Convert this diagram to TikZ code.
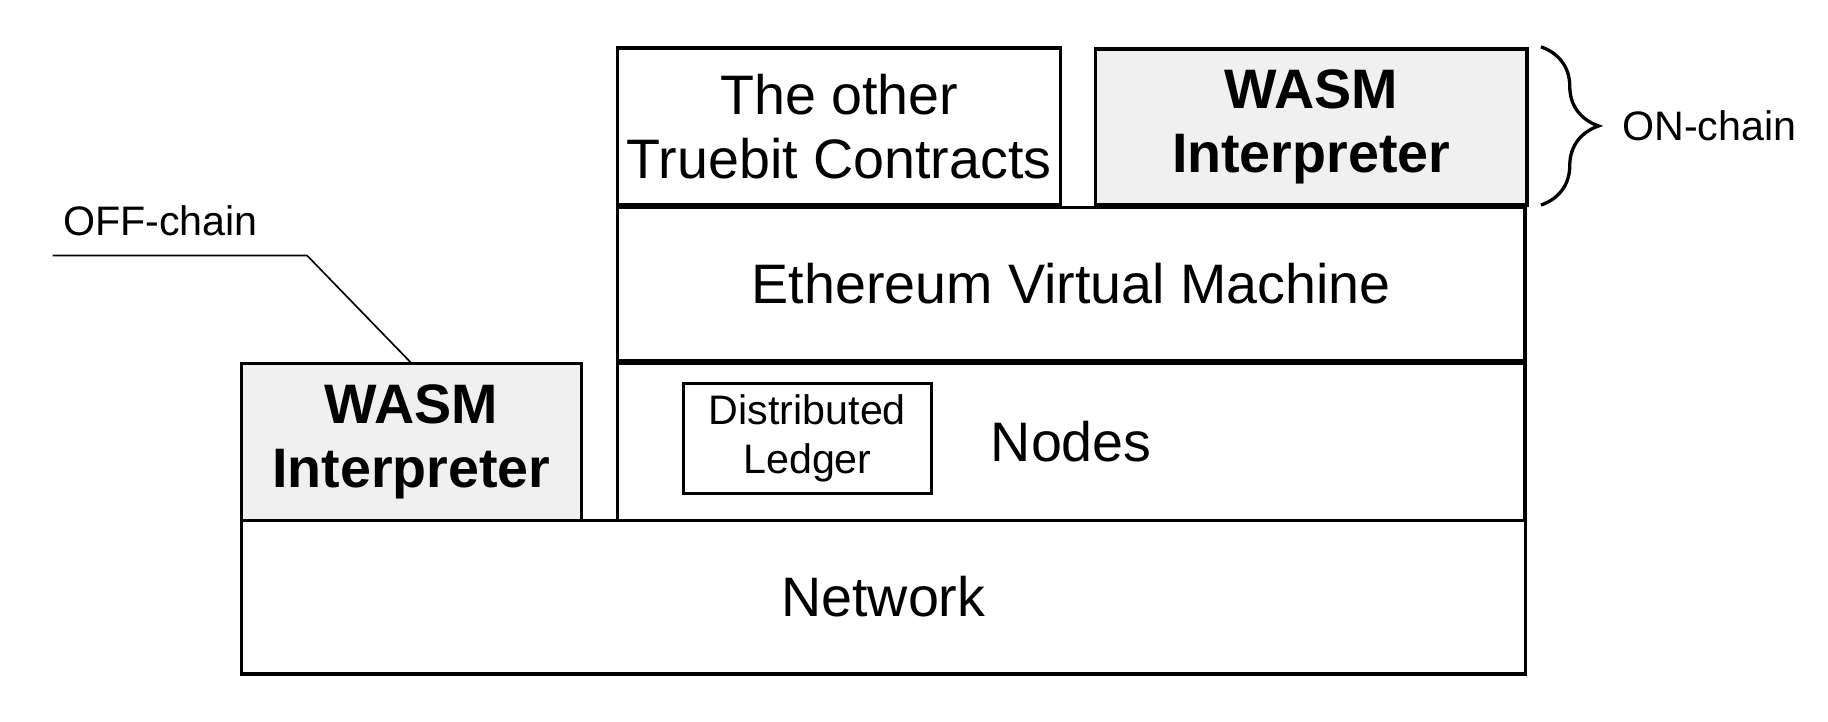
\documentclass[tikz,border=0pt]{standalone}
\usepackage{fontspec}
\setmainfont{Liberation Sans}
\usetikzlibrary{positioning,decorations.pathreplacing}
\tikzset{
    layer/.style={
           rectangle,
           draw=black, thick,
           align=center,
           font=\fontsize{13.5}{15.5}\selectfont,
           inner sep=0pt, outer sep=0pt,
           },
    engine/.style={
           layer,
           fill=gray!12,
           font=\fontsize{13.5}{15.5}\selectfont\bfseries,
           },
}

\begin{document}
\begin{tikzpicture}[x=0.01cm,y=-0.01cm]
 \useasboundingbox (0,0) rectangle (1560,616);

 % bottom layer
 \node[layer,anchor=north west,minimum width=10.95cm,minimum height=1.31cm] (Network) at (206,444) {Network};

 % off-chain interpreter
 \node[engine,anchor=south west,minimum width=2.90cm,minimum height=1.34cm] (WASM Off) at (206,444) {WASM\\Interpreter};

 % nodes and the chain above them
 \node[layer,anchor=south west,minimum width=7.74cm,minimum height=1.34cm] (Nodes) at (527,444) {Nodes};
 \node[layer,anchor=north west,minimum width=2.12cm,minimum height=0.94cm,
  font=\fontsize{10}{12}\selectfont] (Ledger) at (583,327) {Distributed\\Ledger};
 \node[layer,anchor=south west,minimum width=7.74cm,minimum height=1.31cm] (EVM) at (527,308) {Ethereum Virtual Machine};

 % on-chain contracts
 \node[layer,anchor=south west,minimum width=3.78cm,minimum height=1.34cm] (Contracts) at (527,175) {The other\\Truebit Contracts};
 \node[engine,anchor=south east,minimum width=3.68cm,minimum height=1.33cm] (WASM On) at (1303,175) {WASM\\Interpreter};

 % labels
 \draw[thick,decorate,decoration={brace,amplitude=14pt}] (1315,40) -- (1315,175)
  node[midway,right=16pt,font=\fontsize{10}{12}\selectfont] (On Chain) {ON-chain};
 \node[font=\fontsize{10}{12}\selectfont] (Off Chain) at (137,188) {OFF-chain};
 \coordinate (Off End) at (45,218);
 \draw (Off End) -- (262,218) -- (WASM Off.north);
\end{tikzpicture}
\end{document}
